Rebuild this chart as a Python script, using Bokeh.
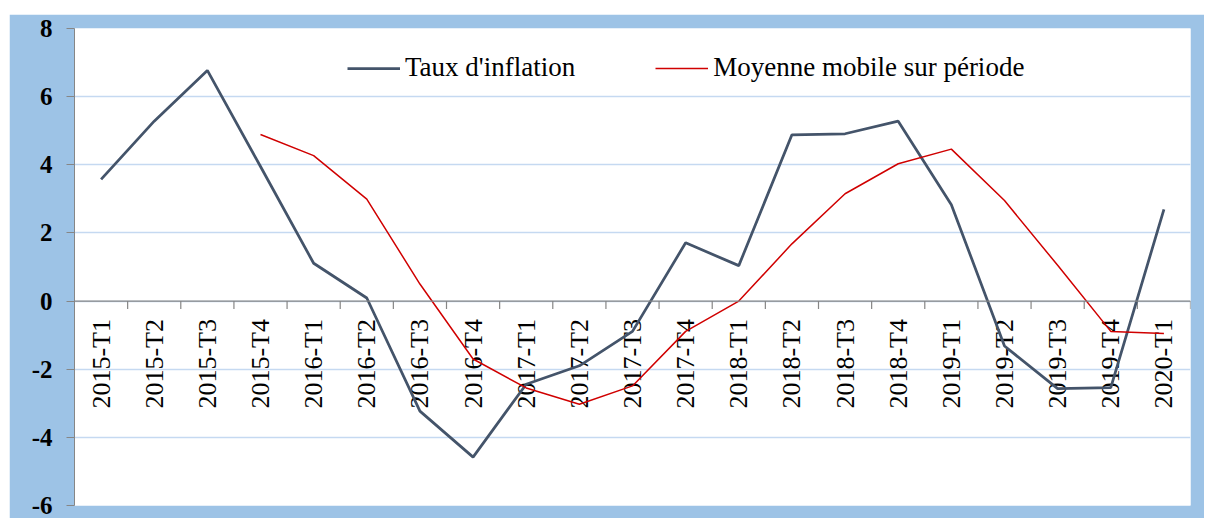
import math
from bokeh.plotting import figure
from bokeh.models import Range1d, FixedTicker, Span, Legend, LegendItem, ColumnDataSource
from bokeh.core.properties import value
from bokeh.embed import file_html
from bokeh.resources import INLINE

categories = ["2015-T1", "2015-T2", "2015-T3", "2015-T4",
              "2016-T1", "2016-T2", "2016-T3", "2016-T4",
              "2017-T1", "2017-T2", "2017-T3", "2017-T4",
              "2018-T1", "2018-T2", "2018-T3", "2018-T4",
              "2019-T1", "2019-T2", "2019-T3", "2019-T4",
              "2020-T1"]
inflation = [3.57, 5.28, 6.77, 3.95, 1.11, 0.09, -3.23, -4.58,
             -2.44, -1.90, -0.89, 1.71, 1.04, 4.88, 4.91, 5.28,
             2.83, -1.32, -2.57, -2.54, 2.69]
nan = float("nan")
moyenne = [nan, nan, nan, 4.89, 4.27, 2.99, 0.50, -1.70,
           -2.55, -3.03, -2.49, -0.89, 0.00, 1.68, 3.15, 4.03,
           4.46, 2.95, 1.05, -0.89, -0.95]
y_ticks = [-6, -4, -2, 0, 2, 4, 6, 8]

n = len(categories)
xs = [i + 0.5 for i in range(n)]
bounds = [i + 1 for i in range(n)]

BLUE_BG = "#9DC3E6"
GRID = "#C5D9F1"
AXIS = "#868686"
FONT = "'Liberation Serif', 'Times New Roman', serif"

p = figure(width=1195, height=504, output_backend="svg", toolbar_location=None,
           x_range=Range1d(0, n), y_range=Range1d(-6, 8),
           min_border_left=65, min_border_right=14, min_border_top=14, min_border_bottom=13)
p.margin = (14, 0, 0, 9)
p.border_fill_color = BLUE_BG
p.background_fill_color = "white"
p.outline_line_color = None

p.xaxis.visible = False
p.xgrid.visible = False

yax = p.yaxis[0]
yax.ticker = FixedTicker(ticks=y_ticks)
yax.major_label_overrides = {t: str(t) for t in y_ticks}
yax.minor_tick_line_color = None
yax.major_tick_in = 0
yax.major_tick_out = 8
yax.major_tick_line_color = AXIS
yax.axis_line_color = AXIS
yax.major_label_text_font = FONT
yax.major_label_text_font_style = "bold"
yax.major_label_text_font_size = "25px"
yax.major_label_text_color = "black"
yax.major_label_standoff = 14

p.ygrid.ticker = FixedTicker(ticks=y_ticks)
p.ygrid.grid_line_color = GRID
p.ygrid.grid_line_width = 1.5

# zero axis line with category boundary ticks
p.add_layout(Span(location=0, dimension="width", line_color=AXIS, line_width=1.2))
p.ray(x=bounds, y=[0] * n, length=8, length_units="screen", angle=-math.pi / 2,
      line_color=AXIS, line_width=1.2)

# category labels
p.text(x=xs, y=[0] * n, text=categories, angle=math.pi / 2,
       text_align="right", text_baseline="middle", y_offset=18,
       text_font=value(FONT), text_font_size="26px", text_color="black")

src = ColumnDataSource(dict(x=xs, infl=inflation, moy=moyenne))
r1 = p.line("x", "infl", source=src, line_color="#44546A", line_width=2.75)
r2 = p.line("x", "moy", source=src, line_color="#D00000", line_width=1.5)

legend = Legend(items=[LegendItem(label="Taux d'inflation", renderers=[r1]),
                       LegendItem(label="Moyenne mobile sur période", renderers=[r2])],
                location=(273, 422), orientation="horizontal",
                glyph_width=53, glyph_height=30, label_height=30,
                label_standoff=5, spacing=80, padding=0, margin=0,
                border_line_color=None, background_fill_alpha=0,
                label_text_font=FONT, label_text_font_size="27px",
                label_text_color="black")
p.add_layout(legend, "center")

open("out.html", "w").write(file_html(p, INLINE))
